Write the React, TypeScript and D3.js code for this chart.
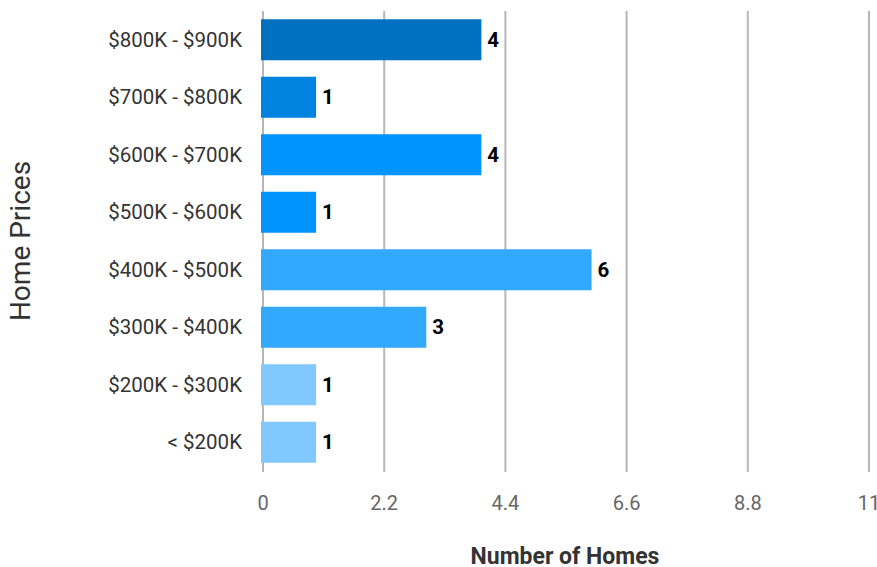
import React from "react";
import * as d3 from "d3";

const categories = [
  "$800K - $900K",
  "$700K - $800K",
  "$600K - $700K",
  "$500K - $600K",
  "$400K - $500K",
  "$300K - $400K",
  "$200K - $300K",
  "< $200K",
];
const values = [4, 1, 4, 1, 6, 3, 1, 1];
const barColors = ["#0070c0", "#0082e0", "#0094ff", "#0094ff", "#33a8ff", "#33a8ff", "#80c8ff", "#80c8ff"];
const xTicks = [0, 2.2, 4.4, 6.6, 8.8, 11];
const xTitle = "Number of Homes";
const yTitle = "Home Prices";

export default function App() {
  const W = 877, H = 567;
  const x = d3.scaleLinear().domain([0, 11]).range([263, 869]);
  const y = d3.scaleBand<string>().domain(categories).range([11, 471]).paddingInner(0.287).paddingOuter(0.1435);
  const font = "Roboto, 'Noto Sans', sans-serif";
  return (
    <svg width={W} height={H} style={{ position: "absolute", left: 0, top: 0, background: "#fff" }} fontFamily={font}>
      {xTicks.map((t) => (
        <g key={t}>
          <line x1={x(t)} x2={x(t)} y1={11} y2={472} stroke="#b7b7b7" strokeWidth={2} />
          <text x={x(t)} y={510} textAnchor="middle" fontSize={20} fill="#666">{t}</text>
        </g>
      ))}
      {categories.map((c, i) => (
        <g key={c}>
          <rect x={x(0) - 2} y={y(c)!} width={x(values[i]) - x(0)} height={y.bandwidth()} fill={barColors[i]} />
          <text x={x(values[i]) + 4} y={y(c)! + y.bandwidth() / 2 + 7} fontSize={20.5} fontWeight="bold" fill="#000">{values[i]}</text>
          <text x={242} y={y(c)! + y.bandwidth() / 2 + 7} textAnchor="end" fontSize={20.5} fill="#333">{c}</text>
        </g>
      ))}
      <text x={565} y={564} textAnchor="middle" fontSize={23} fontWeight="bold" fill="#333">{xTitle}</text>
      <text transform={`translate(30,241) rotate(-90)`} textAnchor="middle" fontSize={28} fill="#333">{yTitle}</text>
    </svg>
  );
}
